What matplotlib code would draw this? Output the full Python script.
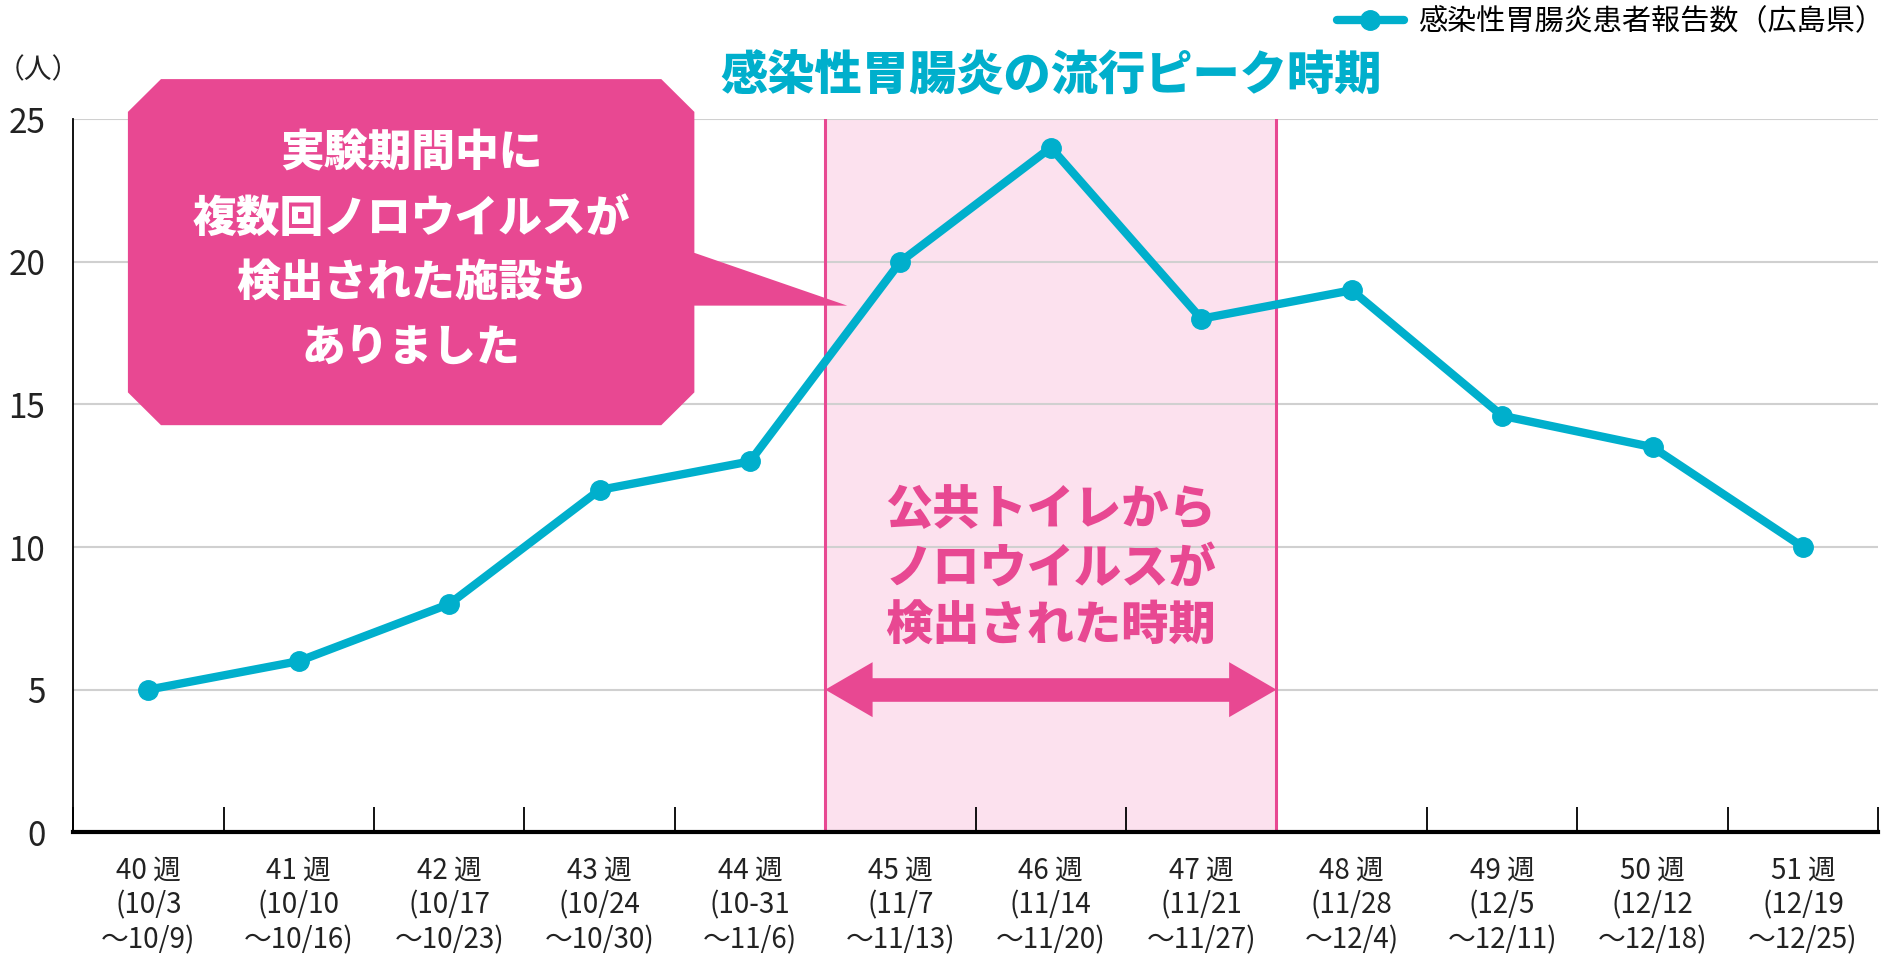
import numpy as np
import matplotlib
matplotlib.use('Agg')
import matplotlib.pyplot as plt
from matplotlib.patches import Polygon, FancyArrowPatch

plt.rcParams['font.family'] = ['Noto Sans CJK JP', 'DejaVu Sans']

# data
weeks = ['40 週', '41 週', '42 週', '43 週', '44 週', '45 週',
         '46 週', '47 週', '48 週', '49 週', '50 週', '51 週']
periods = ['(10/3\n～10/9)', '(10/10\n～10/16)', '(10/17\n～10/23)', '(10/24\n～10/30)',
           '(10-31\n～11/6)', '(11/7\n～11/13)', '(11/14\n～11/20)', '(11/21\n～11/27)',
           '(11/28\n～12/4)', '(12/5\n～12/11)', '(12/12\n～12/18)', '(12/19\n～12/25)']
cases = [5, 6, 8, 12, 13, 20, 24, 18, 19, 14.6, 13.5, 10]
peak_weeks = ['45 週', '46 週', '47 週']

series_name = '感染性胃腸炎患者報告数（広島県）'
peak_title = '感染性胃腸炎の流行ピーク時期'
box_text = '実験期間中に\n複数回ノロウイルスが\n検出された施設も\nありました'
band_text = '公共トイレから\nノロウイルスが\n検出された時期'

CYAN = '#00afcc'
MAGENTA = '#e84892'
PINK = '#fce1ee'

fig = plt.figure(figsize=(19, 9.6), dpi=100)
ax = fig.add_axes([0.0385, 0.133, 0.950, 0.743])

x = np.arange(len(weeks))
i0 = weeks.index(peak_weeks[0]) - 0.5
i1 = weeks.index(peak_weeks[-1]) + 0.5

# peak band
ax.axvspan(i0, i1, color=PINK, zorder=0.2, lw=0)
ax.axvline(i0, color=MAGENTA, lw=2.2, zorder=2)
ax.axvline(i1, color=MAGENTA, lw=2.2, zorder=2)

ax.plot(x, cases, color=CYAN, lw=6, marker='o', ms=14, zorder=4,
        label=series_name, solid_capstyle='round')

ax.set_xlim(-0.5, len(weeks) - 0.5)
ax.set_ylim(0, 25)
ax.set_yticks([0, 5, 10, 15, 20, 25])
ax.grid(axis='y', color='#d0d0d0', lw=1.5)
ax.set_axisbelow(True)

ax.set_xticks(x)
ax.set_xticklabels([w + '\n' + p for w, p in zip(weeks, periods)],
                   fontsize=20, linespacing=1.2, color='#222222')
ax.set_xticks(np.arange(-0.5, len(weeks)), minor=True)
ax.tick_params(axis='x', which='major', length=0, pad=17)
ax.tick_params(axis='x', which='minor', direction='in', length=18, width=1.3)
ax.tick_params(axis='y', length=0, pad=20, labelsize=24, labelcolor='#222222')

for s in ['top', 'right']:
    ax.spines[s].set_visible(False)
ax.spines['left'].set_linewidth(1.3)
ax.spines['bottom'].set_linewidth(3)

# title over band
ax.text((i0 + i1) / 2, 26.5, peak_title, ha='center', va='center', fontsize=34,
        fontweight='black', color=CYAN, clip_on=False)

# text in band + arrow
ax.text((i0 + i1) / 2, 9.25, band_text, ha='center', va='center', fontsize=34,
        fontweight='black', color=MAGENTA, linespacing=1.25, zorder=5)
arr = FancyArrowPatch((i0, 5), (i1, 5), arrowstyle='<|-|>,head_length=1.55,head_width=0.9',
                      mutation_scale=22, lw=0, color=MAGENTA, zorder=5,
                      shrinkA=0, shrinkB=0)
ax.add_patch(arr)
ax.plot([i0 + 0.25, i1 - 0.25], [5, 5], color=MAGENTA, lw=17, zorder=5, solid_capstyle='butt')

# callout box
bx0, bx1, by0, by1 = -0.136, 3.63, 14.27, 26.4
cx, cy = 0.22, 1.15
tip_x, tip_top, tip_bot = 4.646, 20.31, 18.46
verts = [(bx0 + cx, by1), (bx1 - cx, by1), (bx1, by1 - cy), (bx1, tip_top),
         (tip_x, tip_bot), (bx1, tip_bot), (bx1, by0 + cy), (bx1 - cx, by0),
         (bx0 + cx, by0), (bx0, by0 + cy), (bx0, by1 - cy)]
ax.add_patch(Polygon(verts, closed=True, facecolor=MAGENTA, edgecolor='none',
                     zorder=6, clip_on=False))
ax.text((bx0 + bx1) / 2, 20.4, box_text, ha='center', va='center', fontsize=31.5,
        fontweight='black', color='white', linespacing=1.55, zorder=7)

# unit label
fig.text(38 / 1900, 1 - 70 / 960, '（人）', ha='center', va='center', fontsize=20,
         color='#222222')

fig.legend(loc='upper right', bbox_to_anchor=(0.998, 1.005), frameon=False,
           fontsize=21, handlelength=2.3, handletextpad=0.5, borderaxespad=0)

fig.savefig('out.png', dpi=100)
